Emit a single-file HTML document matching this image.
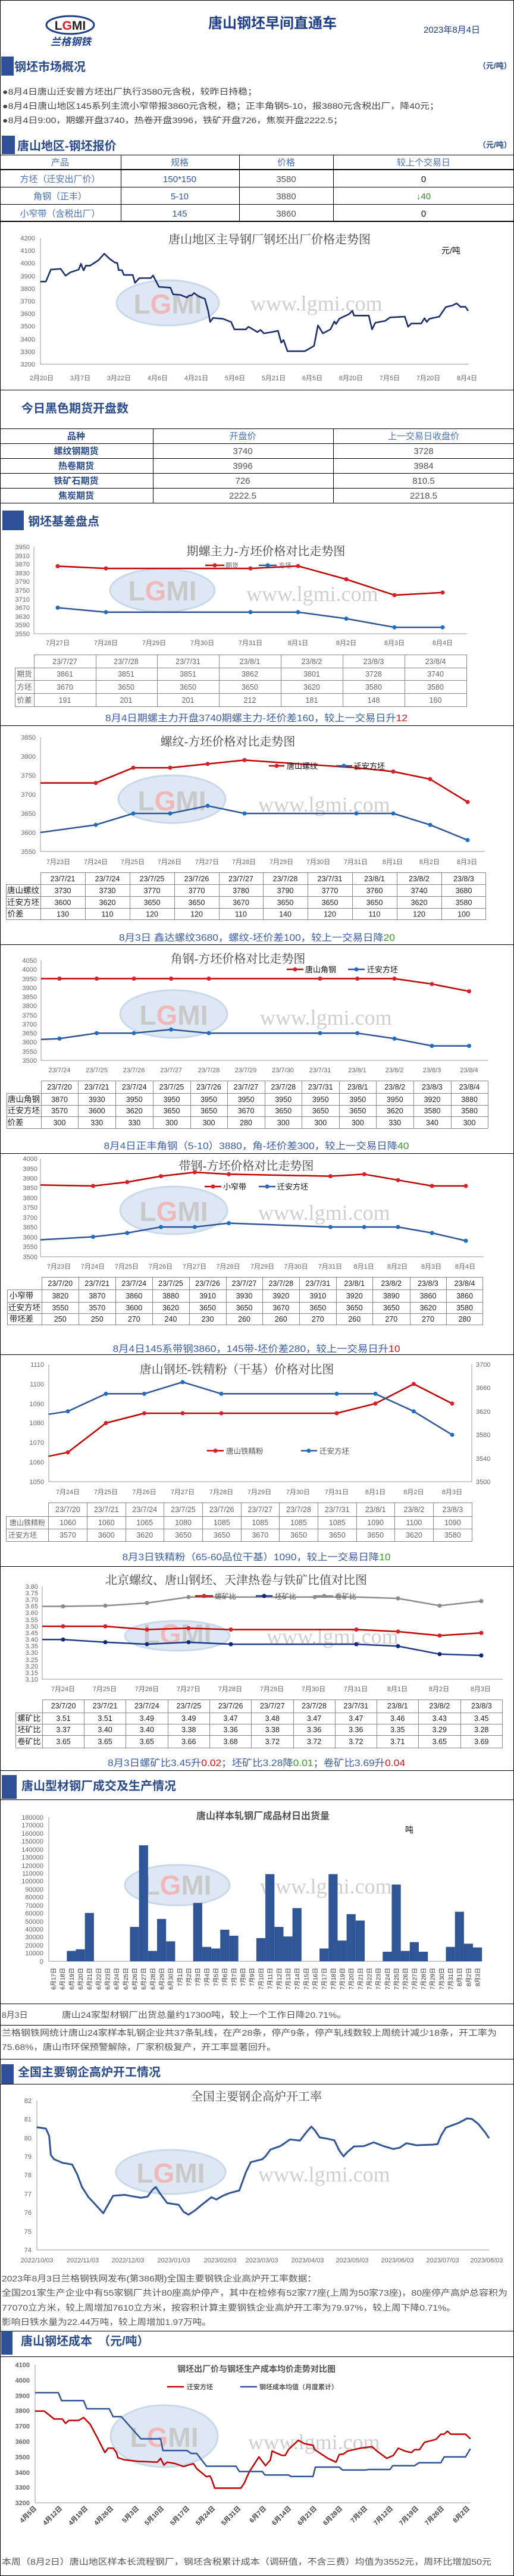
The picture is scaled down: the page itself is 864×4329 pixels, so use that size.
<!DOCTYPE html>
<html><head><meta charset="utf-8">
<style>
html,body{margin:0;padding:0;background:#fff;}
svg{display:block;}
text{font-family:"Liberation Sans","Noto Sans CJK SC",sans-serif;}
.sf{font-family:"Liberation Serif","Noto Serif CJK SC",serif;}
.ct{font-family:"Liberation Serif","Noto Serif CJK SC",serif;font-size:20px;fill:#444;text-anchor:middle;}
.sh{font-size:20px;font-weight:bold;fill:#2b4c8c;}
.yl{font-size:11px;fill:#666;text-anchor:end;}
.xl{font-size:11px;fill:#666;text-anchor:middle;}
.td{font-size:12.5px;fill:#222;text-anchor:middle;}
.tg{font-size:12.5px;fill:#666;text-anchor:middle;}
.cap{font-size:16px;fill:#3a5ea8;text-anchor:middle;}
.g{fill:none;stroke:#888;stroke-width:1;}
.wmE{fill:#dde8f4;stroke:#c9d9ec;stroke-width:3;}
.wmL{font-size:46px;font-weight:bold;fill:#c9c9c9;text-anchor:middle;}
.wmW{font-family:"Liberation Serif",serif;font-size:36px;fill:#cfcfcf;}
.r{fill:none;stroke:#c00000;stroke-width:2.5;stroke-linejoin:round;}
.b{fill:none;stroke:#2e5597;stroke-width:2.5;stroke-linejoin:round;}
.rd{fill:#d9202a;}
.bd{fill:#1d6fc4;}
.ax{stroke:#999;stroke-width:1;fill:none;}
.nv{vector-effect:non-scaling-stroke;}
</style></head>
<body>
<svg width="864" height="4329" viewBox="0 0 864 4329" xmlns="http://www.w3.org/2000/svg">
<rect x="0" y="0" width="864" height="4329" fill="#fff"/>
<!-- frame -->
<path d="M0.5,0.5 V4328.5 H863.5 V0.5 Z" fill="none" stroke="#000" stroke-width="1"/>

<!-- header -->
<ellipse cx="118" cy="42" rx="40" ry="15" fill="none" stroke="#1f3f8a" stroke-width="3"/>
<text x="118" y="50" font-size="21" font-weight="bold" fill="#222" text-anchor="middle">L<tspan fill="#d9202a">G</tspan>MI</text>
<text x="119" y="76" font-size="17" font-weight="bold" fill="#1f3f8a" text-anchor="middle" font-style="italic">兰格钢铁</text>
<text x="458" y="47" font-size="24" font-weight="bold" fill="#1f3f8a" text-anchor="middle">唐山钢坯早间直通车</text>
<text x="712" y="55" font-size="15" fill="#1f3f8a">2023年8月4日</text>

<rect x="2" y="95" width="21" height="32" fill="#2f4f98"/>
<text x="24" y="119" class="sh">钢坯市场概况</text>
<text x="804" y="141" font-size="13" font-weight="bold" fill="#2b4c8c" transform="translate(0,-26)">（元/吨）</text>
<text x="4" y="159" font-size="14" fill="#444" textLength="428" lengthAdjust="spacingAndGlyphs">●8月4日唐山迁安普方坯出厂执行3580元含税，较昨日持稳；</text>
<text x="4" y="183" font-size="14" fill="#444" textLength="734" lengthAdjust="spacingAndGlyphs">●8月4日唐山地区145系列主流小窄带报3860元含税，稳；正丰角钢5-10，报3880元含税出厂，降40元；</text>
<text x="4" y="207" font-size="14" fill="#444" textLength="572" lengthAdjust="spacingAndGlyphs">●8月4日9:00，期螺开盘3740，热卷开盘3996，铁矿开盘726，焦炭开盘2222.5；</text>

<rect x="3" y="228" width="22" height="31" fill="#2f4f98"/>
<text x="29" y="252" class="sh">唐山地区-钢坯报价</text>
<text x="804" y="248" font-size="13" font-weight="bold" fill="#2b4c8c">（元/吨）</text>
<!-- table 1 -->
<path d="M0,260.5H864 M0,314.5H864 M0,343.5H864 M203.5,260V372 M402.5,260V372 M560.5,260V372" stroke="#000" stroke-width="1" fill="none"/>
<path d="M0,285H864 M0,372H864" stroke="#000" stroke-width="2" fill="none"/>
<g font-size="15" text-anchor="middle" fill="#4a72b8">
<text x="101" y="278">产品</text><text x="302" y="278">规格</text><text x="481" y="278">价格</text><text x="712" y="278">较上个交易日</text>
<text x="101" y="306">方坯（迁安出厂价）</text><text x="302" y="306" fill="#2e5597">150*150</text><text x="481" y="306" fill="#555">3580</text><text x="712" y="306" fill="#111">0</text>
<text x="101" y="335">角钢（正丰）</text><text x="302" y="335" fill="#2e5597">5-10</text><text x="481" y="335" fill="#555">3880</text><text x="712" y="335" fill="#3a8a2a">↓40</text>
<text x="101" y="364">小窄带（含税出厂）</text><text x="302" y="364" fill="#2e5597">145</text><text x="481" y="364" fill="#555">3860</text><text x="712" y="364" fill="#111">0</text>
</g>

<!-- chart A -->
<ellipse cx="282" cy="509" rx="86" ry="38" class="wmE"/>
<text x="282" y="527" class="wmL">L<tspan fill="#f0b8b8">G</tspan>MI</text>
<text x="421" y="522" class="wmW">www.lgmi.com</text>
<text x="453" y="409" class="ct">唐山地区主导钢厂钢坯出厂价格走势图</text>
<text x="742" y="426" font-size="14" fill="#111">元/吨</text>
<path d="M68,400V612H788" class="ax"/>
<g class="yl sf" font-size="12">
<text x="59" y="404">4200</text><text x="59" y="425">4100</text><text x="59" y="446">4000</text><text x="59" y="468">3900</text><text x="59" y="489">3800</text><text x="59" y="510">3700</text><text x="59" y="531">3600</text><text x="59" y="552">3500</text><text x="59" y="574">3400</text><text x="59" y="595">3300</text><text x="59" y="616">3200</text>
</g>
<g class="xl sf" font-size="12">
<text x="70" y="639">2月20日</text><text x="135" y="639">3月7日</text><text x="200" y="639">3月22日</text><text x="265" y="639">4月6日</text><text x="330" y="639">4月21日</text><text x="395" y="639">5月6日</text><text x="460" y="639">5月21日</text><text x="525" y="639">6月5日</text><text x="590" y="639">6月20日</text><text x="655" y="639">7月5日</text><text x="720" y="639">7月20日</text><text x="785" y="639">8月4日</text>
</g>
<g transform="scale(0.551,0.4464)">
<polyline class="nv" fill="none" stroke="#1c2f6e" stroke-width="2.6" stroke-linejoin="round" points="123,1060 140,1060 155,1015 185,1012 200,1038 215,1025 240,1015 247,993 255,1018 262,1000 275,1000 300,980 318,955 335,975 350,988 358,990 362,1017 372,1017 378,1035 405,1035 412,1065 425,1047 460,1047 467,1037 485,1080 520,1083 528,1108 550,1110 570,1120 578,1112 585,1112 592,1103 605,1115 625,1125 635,1170 641,1212 650,1197 680,1200 705,1212 715,1240 750,1240 758,1230 785,1250 795,1242 805,1255 830,1250 848,1245 858,1290 865,1280 868,1290 877,1322 930,1322 958,1302 970,1225 985,1255 1008,1240 1020,1210 1025,1220 1035,1200 1065,1182 1075,1170 1080,1188 1125,1188 1135,1240 1145,1215 1175,1208 1190,1195 1235,1192 1245,1230 1255,1218 1285,1218 1295,1198 1302,1212 1310,1200 1340,1192 1360,1156 1380,1150 1393,1142 1405,1155 1420,1155 1428,1170"/>
</g>
<path d="M0,655.5H864" stroke="#000"/>

<!-- futures table -->
<text x="36" y="693" class="sh">今日黑色期货开盘数</text>
<path d="M0,720.5H864 M0,745.5H864 M0,770.5H864 M0,795.5H864 M0,820.5H864 M0,845.5H864 M257.5,720V845 M560.5,720V845" stroke="#000" fill="none"/>
<g font-size="15" text-anchor="middle">
<text x="128" y="738" font-weight="bold" fill="#2b4c8c">品种</text><text x="408" y="738" fill="#4a72b8">开盘价</text><text x="712" y="738" fill="#4a72b8">上一交易日收盘价</text>
<text x="128" y="763" font-weight="bold" fill="#2b4c8c">螺纹钢期货</text><text x="408" y="763" fill="#555">3740</text><text x="712" y="763" fill="#555">3728</text>
<text x="128" y="788" font-weight="bold" fill="#2b4c8c">热卷期货</text><text x="408" y="788" fill="#555">3996</text><text x="712" y="788" fill="#555">3984</text>
<text x="128" y="813" font-weight="bold" fill="#2b4c8c">铁矿石期货</text><text x="408" y="813" fill="#555">726</text><text x="712" y="813" fill="#555">810.5</text>
<text x="128" y="838" font-weight="bold" fill="#2b4c8c">焦炭期货</text><text x="408" y="838" fill="#555">2222.5</text><text x="712" y="838" fill="#555">2218.5</text>
</g>

<rect x="4" y="858" width="36" height="33" fill="#2f4f98"/>
<text x="47" y="883" class="sh">钢坯基差盘点</text>

<!-- chart B -->
<ellipse cx="273" cy="992" rx="88" ry="36" class="wmE"/>
<text x="273" y="1009" class="wmL">L<tspan fill="#f0b8b8">G</tspan>MI</text>
<text x="414" y="1010" class="wmW">www.lgmi.com</text>
<text x="447" y="933" class="ct">期螺主力-方坯价格对比走势图</text>
<path d="M57,919V1065H785" class="ax"/>
<g class="yl">
<text x="50" y="923">3950</text><text x="50" y="938">3910</text><text x="50" y="952">3870</text><text x="50" y="967">3830</text><text x="50" y="981">3790</text><text x="50" y="996">3750</text><text x="50" y="1011">3710</text><text x="50" y="1025">3670</text><text x="50" y="1040">3630</text><text x="50" y="1054">3590</text><text x="50" y="1069">3550</text>
</g>
<g class="xl"><text x="97" y="1084">7月27日</text><text x="178" y="1084">7月28日</text><text x="259" y="1084">7月29日</text><text x="340" y="1084">7月30日</text><text x="421" y="1084">7月31日</text><text x="501" y="1084">8月1日</text><text x="582" y="1084">8月2日</text><text x="663" y="1084">8月3日</text><text x="744" y="1084">8月4日</text></g>
<polyline class="r" points="97,951.5 178,955.2 421,955.2 501,951.2 582,973.5 663,1000.1 744,995.8"/>
<polyline class="b" points="97,1021.3 178,1028.7 421,1028.7 501,1028.7 582,1039.6 663,1054.2 744,1054.2"/>
<g class="rd"><circle cx="97" cy="951.5" r="3.5"/><circle cx="178" cy="955.2" r="3.5"/><circle cx="421" cy="955.2" r="3.5"/><circle cx="501" cy="951.2" r="3.5"/><circle cx="582" cy="973.5" r="3.5"/><circle cx="663" cy="1000.1" r="3.5"/><circle cx="744" cy="995.8" r="3.5"/></g>
<g class="bd"><circle cx="97" cy="1021.3" r="3.5"/><circle cx="178" cy="1028.7" r="3.5"/><circle cx="421" cy="1028.7" r="3.5"/><circle cx="501" cy="1028.7" r="3.5"/><circle cx="582" cy="1039.6" r="3.5"/><circle cx="663" cy="1054.2" r="3.5"/><circle cx="744" cy="1054.2" r="3.5"/></g>
<path d="M345,950H377" stroke="#c00000" stroke-width="2.5"/><circle cx="361" cy="950" r="3.5" class="rd"/><text x="379" y="954" font-size="11" fill="#666">期货</text>
<path d="M435,950H465" stroke="#2e5597" stroke-width="2.5"/><circle cx="450" cy="950" r="3.5" class="bd"/><text x="468" y="954" font-size="11" fill="#666">方坯</text>
<path class="g" d="M57,1100.5H785 M25,1122.5H785 M25,1143.5H785 M25,1165.5H785 M25,1187.5H785 M25.5,1122V1187 M57.5,1100V1187 M161.5,1100V1187 M264.5,1100V1187 M368.5,1100V1187 M472.5,1100V1187 M576.5,1100V1187 M680.5,1100V1187 M784.5,1100V1187"/>
<g class="tg">
<text x="109" y="1116">23/7/27</text><text x="212" y="1116">23/7/28</text><text x="316" y="1116">23/7/31</text><text x="420" y="1116">23/8/1</text><text x="524" y="1116">23/8/2</text><text x="628" y="1116">23/8/3</text><text x="732" y="1116">23/8/4</text>
<text x="41" y="1137">期货</text><text x="109" y="1137">3861</text><text x="212" y="1137">3851</text><text x="316" y="1137">3851</text><text x="420" y="1137">3862</text><text x="524" y="1137">3801</text><text x="628" y="1137">3728</text><text x="732" y="1137">3740</text>
<text x="41" y="1159">方坯</text><text x="109" y="1159">3670</text><text x="212" y="1159">3650</text><text x="316" y="1159">3650</text><text x="420" y="1159">3650</text><text x="524" y="1159">3620</text><text x="628" y="1159">3580</text><text x="732" y="1159">3580</text>
<text x="41" y="1181">价差</text><text x="109" y="1181">191</text><text x="212" y="1181">201</text><text x="316" y="1181">201</text><text x="420" y="1181">212</text><text x="524" y="1181">181</text><text x="628" y="1181">148</text><text x="732" y="1181">160</text>
</g>
<text x="431" y="1212" class="cap" textLength="508" lengthAdjust="spacingAndGlyphs">8月4日期螺主力开盘3740期螺主力-坯价差160，较上一交易日升<tspan fill="#e01010">12</tspan></text>
<path d="M0,1219.5H864" stroke="#000"/>

<!-- chart C -->
<ellipse cx="289" cy="1343" rx="90" ry="40" class="wmE"/>
<text x="289" y="1362" class="wmL">L<tspan fill="#f0b8b8">G</tspan>MI</text>
<text x="434" y="1364" class="wmW">www.lgmi.com</text>
<text x="383" y="1253" class="ct">螺纹-方坯价格对比走势图</text>
<path d="M68,1239V1431H815" class="ax"/>
<g class="yl"><text x="60" y="1243">3850</text><text x="60" y="1275">3800</text><text x="60" y="1307">3750</text><text x="60" y="1339">3700</text><text x="60" y="1371">3650</text><text x="60" y="1403">3600</text><text x="60" y="1435">3550</text></g>
<g class="xl" font-size="12" fill="#555"><text x="98" y="1452">7月23日</text><text x="161" y="1452">7月24日</text><text x="223" y="1452">7月25日</text><text x="285" y="1452">7月26日</text><text x="348" y="1452">7月27日</text><text x="410" y="1452">7月28日</text><text x="473" y="1452">7月29日</text><text x="535" y="1452">7月30日</text><text x="598" y="1452">7月31日</text><text x="660" y="1452">8月1日</text><text x="722" y="1452">8月2日</text><text x="785" y="1452">8月3日</text></g>
<polyline class="r" points="68,1315.8 161,1315.8 224,1290.2 286,1290.2 349,1283.8 411,1277.4 599,1290.2 661,1296.6 723,1309.4 786,1347.8"/>
<polyline class="b" points="68,1399 161,1386.2 224,1367 286,1367 349,1354.2 411,1367 599,1367 661,1367 723,1386.2 786,1411.8"/>
<g class="rd"><circle cx="161" cy="1315.8" r="3.5"/><circle cx="224" cy="1290.2" r="3.5"/><circle cx="286" cy="1290.2" r="3.5"/><circle cx="349" cy="1283.8" r="3.5"/><circle cx="411" cy="1277.4" r="3.5"/><circle cx="599" cy="1290.2" r="3.5"/><circle cx="661" cy="1296.6" r="3.5"/><circle cx="723" cy="1309.4" r="3.5"/><circle cx="786" cy="1347.8" r="3.5"/></g>
<g class="bd"><circle cx="161" cy="1386.2" r="3.5"/><circle cx="224" cy="1367" r="3.5"/><circle cx="286" cy="1367" r="3.5"/><circle cx="349" cy="1354.2" r="3.5"/><circle cx="411" cy="1367" r="3.5"/><circle cx="599" cy="1367" r="3.5"/><circle cx="661" cy="1367" r="3.5"/><circle cx="723" cy="1386.2" r="3.5"/><circle cx="786" cy="1411.8" r="3.5"/></g>
<path d="M452,1287H478" stroke="#c00000" stroke-width="2.5"/><circle cx="465" cy="1287" r="3.5" class="rd"/><text x="482" y="1292" font-size="13" fill="#111">唐山螺纹</text>
<path d="M565,1287H592" stroke="#2e5597" stroke-width="2.5"/><circle cx="578" cy="1287" r="3.5" class="bd"/><text x="595" y="1292" font-size="13" fill="#111">迁安方坯</text>
<path class="g" d="M68,1466.5H817 M10.5,1486.5H817 M10.5,1506.5H817 M10.5,1526.5H817 M10.5,1545.5H817 M10.5,1486V1545 M68.5,1466V1545 M143.5,1466V1545 M218.5,1466V1545 M293.5,1466V1545 M368.5,1466V1545 M442.5,1466V1545 M517.5,1466V1545 M592.5,1466V1545 M667.5,1466V1545 M742.5,1466V1545 M816.5,1466V1545"/>
<g class="td">
<text x="105.5" y="1481">23/7/21</text><text x="180.5" y="1481">23/7/24</text><text x="255.5" y="1481">23/7/25</text><text x="330.5" y="1481">23/7/26</text><text x="405" y="1481">23/7/27</text><text x="479.5" y="1481">23/7/28</text><text x="554.5" y="1481">23/7/31</text><text x="629.5" y="1481">23/8/1</text><text x="704.5" y="1481">23/8/2</text><text x="779.5" y="1481">23/8/3</text>
<text x="39" y="1501" font-size="13.5">唐山螺纹</text><text x="105.5" y="1501">3730</text><text x="180.5" y="1501">3730</text><text x="255.5" y="1501">3770</text><text x="330.5" y="1501">3770</text><text x="405" y="1501">3780</text><text x="479.5" y="1501">3790</text><text x="554.5" y="1501">3770</text><text x="629.5" y="1501">3760</text><text x="704.5" y="1501">3740</text><text x="779.5" y="1501">3680</text>
<text x="39" y="1521" font-size="13.5">迁安方坯</text><text x="105.5" y="1521">3600</text><text x="180.5" y="1521">3620</text><text x="255.5" y="1521">3650</text><text x="330.5" y="1521">3650</text><text x="405" y="1521">3670</text><text x="479.5" y="1521">3650</text><text x="554.5" y="1521">3650</text><text x="629.5" y="1521">3650</text><text x="704.5" y="1521">3620</text><text x="779.5" y="1521">3580</text>
<text x="26" y="1540.5" font-size="13.5">价差</text><text x="105.5" y="1540.5">130</text><text x="180.5" y="1540.5">110</text><text x="255.5" y="1540.5">120</text><text x="330.5" y="1540.5">120</text><text x="405" y="1540.5">110</text><text x="479.5" y="1540.5">140</text><text x="554.5" y="1540.5">120</text><text x="629.5" y="1540.5">110</text><text x="704.5" y="1540.5">120</text><text x="779.5" y="1540.5">100</text>
</g>
<text x="432" y="1581" class="cap" textLength="464" lengthAdjust="spacingAndGlyphs">8月3日 鑫达螺纹3680，螺纹-坯价差100，较上一交易日降<tspan fill="#3a9a2a">20</tspan></text>
<path d="M0,1587.5H864" stroke="#000"/>

<!-- chart D -->
<ellipse cx="292" cy="1704" rx="90" ry="40" class="wmE"/>
<text x="292" y="1722" class="wmL">L<tspan fill="#f0b8b8">G</tspan>MI</text>
<text x="437" y="1722" class="wmW">www.lgmi.com</text>
<text x="400" y="1618" class="ct">角钢-方坯价格对比走势图</text>
<path d="M69,1614V1782H820" class="ax"/>
<g class="yl"><text x="62" y="1618">4050</text><text x="62" y="1633">4000</text><text x="62" y="1649">3950</text><text x="62" y="1664">3900</text><text x="62" y="1679">3850</text><text x="62" y="1694">3800</text><text x="62" y="1710">3750</text><text x="62" y="1725">3700</text><text x="62" y="1740">3650</text><text x="62" y="1755">3600</text><text x="62" y="1771">3550</text><text x="62" y="1786">3500</text></g>
<g class="xl"><text x="100" y="1802">23/7/24</text><text x="162.5" y="1802">23/7/25</text><text x="225" y="1802">23/7/26</text><text x="287.6" y="1802">23/7/27</text><text x="351" y="1802">23/7/28</text><text x="413" y="1802">23/7/29</text><text x="475.5" y="1802">23/7/30</text><text x="538" y="1802">23/7/31</text><text x="600.6" y="1802">23/8/1</text><text x="663" y="1802">23/8/2</text><text x="726" y="1802">23/8/3</text><text x="788.5" y="1802">23/8/4</text></g>
<polyline class="r" points="69,1644.6 100,1644.6 162.5,1644.6 225,1644.6 287.6,1644.6 351,1644.6 538,1644.6 600.6,1644.6 663,1644.6 726,1653.7 788.5,1665.9"/>
<polyline class="b" points="69,1746.9 100,1745.4 162.5,1736.2 225,1736.2 287.6,1730.1 351,1736.2 538,1736.2 600.6,1736.2 663,1745.4 726,1757.6 788.5,1757.6"/>
<g class="rd"><circle cx="100" cy="1644.6" r="3.5"/><circle cx="162.5" cy="1644.6" r="3.5"/><circle cx="225" cy="1644.6" r="3.5"/><circle cx="287.6" cy="1644.6" r="3.5"/><circle cx="351" cy="1644.6" r="3.5"/><circle cx="538" cy="1644.6" r="3.5"/><circle cx="600.6" cy="1644.6" r="3.5"/><circle cx="663" cy="1644.6" r="3.5"/><circle cx="726" cy="1653.7" r="3.5"/><circle cx="788.5" cy="1665.9" r="3.5"/></g>
<g class="bd"><circle cx="100" cy="1745.4" r="3.5"/><circle cx="162.5" cy="1736.2" r="3.5"/><circle cx="225" cy="1736.2" r="3.5"/><circle cx="287.6" cy="1730.1" r="3.5"/><circle cx="351" cy="1736.2" r="3.5"/><circle cx="538" cy="1736.2" r="3.5"/><circle cx="600.6" cy="1736.2" r="3.5"/><circle cx="663" cy="1745.4" r="3.5"/><circle cx="726" cy="1757.6" r="3.5"/><circle cx="788.5" cy="1757.6" r="3.5"/></g>
<path d="M482,1629H510" stroke="#c00000" stroke-width="2.5"/><circle cx="496" cy="1629" r="3.5" class="rd"/><text x="513" y="1634" font-size="13" fill="#111">唐山角钢</text>
<path d="M585,1629H613" stroke="#2e5597" stroke-width="2.5"/><circle cx="599" cy="1629" r="3.5" class="bd"/><text x="617" y="1634" font-size="13" fill="#111">迁安方坯</text>
<path class="g" d="M69,1816.5H820 M11,1837.5H820 M11,1857.5H820 M11,1876.5H820 M11,1896.5H820 M11.5,1837V1896 M69.5,1816V1896 M131.5,1816V1896 M194.5,1816V1896 M257.5,1816V1896 M320.5,1816V1896 M382.5,1816V1896 M445.5,1816V1896 M507.5,1816V1896 M570.5,1816V1896 M632.5,1816V1896 M695.5,1816V1896 M758.5,1816V1896 M820.5,1816V1896"/>
<g class="td">
<text x="100" y="1831">23/7/20</text><text x="162.75" y="1831">23/7/21</text><text x="225.75" y="1831">23/7/24</text><text x="288.5" y="1831">23/7/25</text><text x="351" y="1831">23/7/26</text><text x="413.5" y="1831">23/7/27</text><text x="476.25" y="1831">23/7/28</text><text x="538.75" y="1831">23/7/31</text><text x="601.25" y="1831">23/8/1</text><text x="663.75" y="1831">23/8/2</text><text x="726.5" y="1831">23/8/3</text><text x="789" y="1831">23/8/4</text>
<text x="40" y="1852" font-size="13.5">唐山角钢</text><text x="100" y="1852">3870</text><text x="162.75" y="1852">3930</text><text x="225.75" y="1852">3950</text><text x="288.5" y="1852">3950</text><text x="351" y="1852">3950</text><text x="413.5" y="1852">3950</text><text x="476.25" y="1852">3950</text><text x="538.75" y="1852">3950</text><text x="601.25" y="1852">3950</text><text x="663.75" y="1852">3950</text><text x="726.5" y="1852">3920</text><text x="789" y="1852">3880</text>
<text x="40" y="1871" font-size="13.5">迁安方坯</text><text x="100" y="1871">3570</text><text x="162.75" y="1871">3600</text><text x="225.75" y="1871">3620</text><text x="288.5" y="1871">3650</text><text x="351" y="1871">3650</text><text x="413.5" y="1871">3670</text><text x="476.25" y="1871">3650</text><text x="538.75" y="1871">3650</text><text x="601.25" y="1871">3650</text><text x="663.75" y="1871">3620</text><text x="726.5" y="1871">3580</text><text x="789" y="1871">3580</text>
<text x="26" y="1891" font-size="13.5">价差</text><text x="100" y="1891">300</text><text x="162.75" y="1891">330</text><text x="225.75" y="1891">330</text><text x="288.5" y="1891">300</text><text x="351" y="1891">300</text><text x="413.5" y="1891">280</text><text x="476.25" y="1891">300</text><text x="538.75" y="1891">300</text><text x="601.25" y="1891">300</text><text x="663.75" y="1891">330</text><text x="726.5" y="1891">340</text><text x="789" y="1891">300</text>
</g>
<text x="431" y="1931" class="cap" textLength="513" lengthAdjust="spacingAndGlyphs">8月4日正丰角钢（5-10）3880，角-坯价差300，较上一交易日降<tspan fill="#3a9a2a">40</tspan></text>
<path d="M0,1938.5H864" stroke="#000"/>

<!-- chart E -->
<ellipse cx="292" cy="2034" rx="90" ry="40" class="wmE"/>
<text x="292" y="2052" class="wmL">L<tspan fill="#f0b8b8">G</tspan>MI</text>
<text x="434" y="2050" class="wmW">www.lgmi.com</text>
<text x="414" y="1966" class="ct">带钢-方坯价格对比走势图</text>
<path d="M68,1947V2112H813" class="ax"/>
<g class="yl"><text x="63" y="1951">4000</text><text x="63" y="1968">3950</text><text x="63" y="1984">3900</text><text x="63" y="2000">3850</text><text x="63" y="2017">3800</text><text x="63" y="2033">3750</text><text x="63" y="2050">3700</text><text x="63" y="2066">3650</text><text x="63" y="2083">3600</text><text x="63" y="2099">3550</text><text x="63" y="2116">3500</text></g>
<g class="xl"><text x="99" y="2132">7月23日</text><text x="156" y="2132">7月24日</text><text x="213" y="2132">7月25日</text><text x="270" y="2132">7月26日</text><text x="327" y="2132">7月27日</text><text x="383.5" y="2132">7月28日</text><text x="441" y="2132">7月29日</text><text x="497.5" y="2132">7月30日</text><text x="555" y="2132">7月31日</text><text x="611.6" y="2132">8月1日</text><text x="668" y="2132">8月2日</text><text x="725" y="2132">8月3日</text><text x="782" y="2132">8月4日</text></g>
<polyline class="r" points="68,1991.4 156.5,1993 213.8,1986.5 270.5,1976.6 327.3,1970 384.6,1973.3 555.4,1976.6 612.2,1973.3 669,1983.2 726.2,1993 783,1993"/>
<polyline class="b" points="68,2083.5 156.5,2078.5 213.8,2072 270.5,2062 327.3,2062 384.6,2055.5 555.4,2062 612.2,2062 669,2062 726.2,2072 783,2085.1"/>
<g class="rd"><circle cx="156.5" cy="1993" r="3.5"/><circle cx="213.8" cy="1986.5" r="3.5"/><circle cx="270.5" cy="1976.6" r="3.5"/><circle cx="327.3" cy="1970" r="3.5"/><circle cx="384.6" cy="1973.3" r="3.5"/><circle cx="555.4" cy="1976.6" r="3.5"/><circle cx="612.2" cy="1973.3" r="3.5"/><circle cx="669" cy="1983.2" r="3.5"/><circle cx="726.2" cy="1993" r="3.5"/><circle cx="783" cy="1993" r="3.5"/></g>
<g class="bd"><circle cx="156.5" cy="2078.5" r="3.5"/><circle cx="213.8" cy="2072" r="3.5"/><circle cx="270.5" cy="2062" r="3.5"/><circle cx="327.3" cy="2062" r="3.5"/><circle cx="384.6" cy="2055.5" r="3.5"/><circle cx="555.4" cy="2062" r="3.5"/><circle cx="612.2" cy="2062" r="3.5"/><circle cx="669" cy="2062" r="3.5"/><circle cx="726.2" cy="2072" r="3.5"/><circle cx="783" cy="2085.1" r="3.5"/></g>
<path d="M344,1994H372" stroke="#c00000" stroke-width="2.5"/><circle cx="358" cy="1994" r="3.5" class="rd"/><text x="375" y="1999" font-size="13" fill="#111">小窄带</text>
<path d="M435,1994H463" stroke="#2e5597" stroke-width="2.5"/><circle cx="449" cy="1994" r="3.5" class="bd"/><text x="466" y="1999" font-size="13" fill="#111">迁安方坯</text>
<path class="g" d="M70.5,2146.5H812 M12,2167.5H812 M12,2188.5H812 M12,2207.5H812 M12,2226.5H812 M12.5,2167V2226 M70.5,2146V2226 M132.5,2146V2226 M194.5,2146V2226 M256.5,2146V2226 M318.5,2146V2226 M380.5,2146V2226 M441.5,2146V2226 M503.5,2146V2226 M565.5,2146V2226 M626.5,2146V2226 M689.5,2146V2226 M750.5,2146V2226 M811.5,2146V2226"/>
<g class="td">
<text x="101.25" y="2161">23/7/20</text><text x="163.25" y="2161">23/7/21</text><text x="225.25" y="2161">23/7/24</text><text x="287" y="2161">23/7/25</text><text x="349" y="2161">23/7/26</text><text x="410.5" y="2161">23/7/27</text><text x="472.3" y="2161">23/7/28</text><text x="534.3" y="2161">23/7/31</text><text x="595.75" y="2161">23/8/1</text><text x="657.75" y="2161">23/8/2</text><text x="719.5" y="2161">23/8/3</text><text x="781" y="2161">23/8/4</text>
<text x="36" y="2182" font-size="13.5">小窄带</text><text x="101.25" y="2182">3820</text><text x="163.25" y="2182">3870</text><text x="225.25" y="2182">3860</text><text x="287" y="2182">3880</text><text x="349" y="2182">3910</text><text x="410.5" y="2182">3930</text><text x="472.3" y="2182">3920</text><text x="534.3" y="2182">3910</text><text x="595.75" y="2182">3920</text><text x="657.75" y="2182">3890</text><text x="719.5" y="2182">3860</text><text x="781" y="2182">3860</text>
<text x="41" y="2202" font-size="13.5">迁安方坯</text><text x="101.25" y="2202">3550</text><text x="163.25" y="2202">3570</text><text x="225.25" y="2202">3600</text><text x="287" y="2202">3620</text><text x="349" y="2202">3650</text><text x="410.5" y="2202">3650</text><text x="472.3" y="2202">3670</text><text x="534.3" y="2202">3650</text><text x="595.75" y="2202">3650</text><text x="657.75" y="2202">3650</text><text x="719.5" y="2202">3620</text><text x="781" y="2202">3580</text>
<text x="36" y="2221" font-size="13.5">带坯差</text><text x="101.25" y="2221">250</text><text x="163.25" y="2221">250</text><text x="225.25" y="2221">270</text><text x="287" y="2221">240</text><text x="349" y="2221">230</text><text x="410.5" y="2221">260</text><text x="472.3" y="2221">260</text><text x="534.3" y="2221">270</text><text x="595.75" y="2221">260</text><text x="657.75" y="2221">270</text><text x="719.5" y="2221">270</text><text x="781" y="2221">280</text>
</g>
<text x="431" y="2272" class="cap" textLength="483" lengthAdjust="spacingAndGlyphs">8月4日145系带钢3860，145带-坯价差280，较上一交易日升<tspan fill="#e01010">10</tspan></text>
<path d="M0,2276.5H864" stroke="#000"/>

<!-- chart F -->
<text x="398" y="2308" class="ct">唐山钢坯-铁精粉（干基）价格对比图</text>
<path d="M82,2293V2490H793V2293" class="ax"/>
<g class="yl"><text x="74" y="2297">1110</text><text x="74" y="2330">1100</text><text x="74" y="2363">1090</text><text x="74" y="2395">1080</text><text x="74" y="2428">1070</text><text x="74" y="2461">1060</text><text x="74" y="2494">1050</text></g>
<g class="yl" text-anchor="start"><text x="800" y="2297" text-anchor="start">3700</text><text x="800" y="2336" text-anchor="start">3660</text><text x="800" y="2376" text-anchor="start">3620</text><text x="800" y="2415" text-anchor="start">3580</text><text x="800" y="2455" text-anchor="start">3540</text><text x="800" y="2494" text-anchor="start">3500</text></g>
<g class="xl"><text x="114" y="2511">7月24日</text><text x="178" y="2511">7月25日</text><text x="242.4" y="2511">7月26日</text><text x="307" y="2511">7月27日</text><text x="372" y="2511">7月28日</text><text x="436" y="2511">7月29日</text><text x="501" y="2511">7月30日</text><text x="566" y="2511">7月31日</text><text x="631" y="2511">8月1日</text><text x="695.4" y="2511">8月2日</text><text x="760" y="2511">8月3日</text></g>
<polyline class="r" points="81.5,2447.3 114,2440.7 178,2391.5 242.4,2375 307,2375 372,2375 566,2375 631,2358.7 695.4,2325.8 760,2358.7"/>
<polyline class="b" points="81.5,2376.7 114,2371.8 178,2342.3 242.4,2342.3 307,2322.6 372,2342.3 566,2342.3 631,2342.3 695.4,2371.8 760,2411.2"/>
<g class="rd"><circle cx="114" cy="2440.7" r="3.5"/><circle cx="178" cy="2391.5" r="3.5"/><circle cx="242.4" cy="2375" r="3.5"/><circle cx="307" cy="2375" r="3.5"/><circle cx="372" cy="2375" r="3.5"/><circle cx="566" cy="2375" r="3.5"/><circle cx="631" cy="2358.7" r="3.5"/><circle cx="695.4" cy="2325.8" r="3.5"/><circle cx="760" cy="2358.7" r="3.5"/></g>
<g class="bd"><circle cx="114" cy="2371.8" r="3.5"/><circle cx="178" cy="2342.3" r="3.5"/><circle cx="242.4" cy="2342.3" r="3.5"/><circle cx="307" cy="2322.6" r="3.5"/><circle cx="372" cy="2342.3" r="3.5"/><circle cx="566" cy="2342.3" r="3.5"/><circle cx="631" cy="2342.3" r="3.5"/><circle cx="695.4" cy="2371.8" r="3.5"/><circle cx="760" cy="2411.2" r="3.5"/></g>
<path d="M348,2438H376" stroke="#c00000" stroke-width="2.5"/><circle cx="362" cy="2438" r="3.5" class="rd"/><text x="380" y="2443" font-size="12.5" fill="#555">唐山铁精粉</text>
<path d="M506,2438H533" stroke="#2e5597" stroke-width="2.5"/><circle cx="519" cy="2438" r="3.5" class="bd"/><text x="537" y="2443" font-size="12.5" fill="#555">迁安方坯</text>
<path class="g" d="M81.5,2525.5H793.4 M10.5,2548.5H793.4 M10.5,2569.5H793.4 M10.5,2590.5H793.4 M10.5,2548V2590 M81.5,2525V2590 M146.5,2525V2590 M211.5,2525V2590 M275.5,2525V2590 M340.5,2525V2590 M405.5,2525V2590 M469.5,2525V2590 M534.5,2525V2590 M599.5,2525V2590 M663.5,2525V2590 M728.5,2525V2590 M793.5,2525V2590"/>
<g class="tg" font-size="13">
<text x="114" y="2541">23/7/20</text><text x="178.8" y="2541">23/7/21</text><text x="243.25" y="2541">23/7/24</text><text x="308" y="2541">23/7/25</text><text x="372.75" y="2541">23/7/26</text><text x="437.25" y="2541">23/7/27</text><text x="502" y="2541">23/7/28</text><text x="566.75" y="2541">23/7/31</text><text x="631.2" y="2541">23/8/1</text><text x="695.9" y="2541">23/8/2</text><text x="760.9" y="2541">23/8/3</text>
<text x="46" y="2563" font-size="12">唐山铁精粉</text><text x="114" y="2563">1060</text><text x="178.8" y="2563">1060</text><text x="243.25" y="2563">1065</text><text x="308" y="2563">1080</text><text x="372.75" y="2563">1085</text><text x="437.25" y="2563">1085</text><text x="502" y="2563">1085</text><text x="566.75" y="2563">1085</text><text x="631.2" y="2563">1090</text><text x="695.9" y="2563">1100</text><text x="760.9" y="2563">1090</text>
<text x="38" y="2584" font-size="12">迁安方坯</text><text x="114" y="2584">3570</text><text x="178.8" y="2584">3600</text><text x="243.25" y="2584">3620</text><text x="308" y="2584">3650</text><text x="372.75" y="2584">3650</text><text x="437.25" y="2584">3670</text><text x="502" y="2584">3650</text><text x="566.75" y="2584">3650</text><text x="631.2" y="2584">3650</text><text x="695.9" y="2584">3620</text><text x="760.9" y="2584">3580</text>
</g>
<text x="431" y="2622" class="cap" textLength="451" lengthAdjust="spacingAndGlyphs">8月3日铁精粉（65-60品位干基）1090，较上一交易日降<tspan fill="#3a9a2a">10</tspan></text>
<path d="M0,2632.5H864" stroke="#000"/>

<!-- chart G -->
<ellipse cx="298" cy="2749" rx="88" ry="25" class="wmE"/>
<text x="298" y="2762" class="wmL" font-size="36">L<tspan fill="#f0b8b8">G</tspan>MI</text>
<text x="448" y="2762" class="wmW" font-size="30">www.lgmi.com</text>
<text x="397" y="2662" class="ct">北京螺纹、唐山钢坯、天津热卷与铁矿比值对比图</text>
<path d="M71,2666V2822H845" class="ax"/>
<g class="yl" font-size="10" fill="#444"><text x="64" y="2670">3.80</text><text x="64" y="2681">3.75</text><text x="64" y="2692">3.70</text><text x="64" y="2703">3.65</text><text x="64" y="2714">3.60</text><text x="64" y="2726">3.55</text><text x="64" y="2737">3.50</text><text x="64" y="2748">3.45</text><text x="64" y="2759">3.40</text><text x="64" y="2770">3.35</text><text x="64" y="2781">3.30</text><text x="64" y="2793">3.25</text><text x="64" y="2804">3.20</text><text x="64" y="2815">3.15</text><text x="64" y="2826">3.10</text></g>
<g class="xl"><text x="106" y="2842">7月24日</text><text x="176" y="2842">7月25日</text><text x="247" y="2842">7月26日</text><text x="317" y="2842">7月27日</text><text x="387" y="2842">7月28日</text><text x="457" y="2842">7月29日</text><text x="527" y="2842">7月30日</text><text x="598" y="2842">7月31日</text><text x="668" y="2842">8月1日</text><text x="738" y="2842">8月2日</text><text x="808" y="2842">8月3日</text></g>
<polyline fill="none" stroke="#8c8c8c" stroke-width="2.5" points="71,2699.5 106,2699.5 177,2698.4 247,2693.9 317,2683.9 388,2683.9 458,2683.9 529,2683.9 599,2683.9 669,2686.1 739,2698.4 809,2690.6"/>
<polyline class="r" points="71,2733 106,2733 177,2733 247,2738.5 317,2736.3 388,2738.5 458,2738.5 529,2738.5 599,2738.5 669,2741.9 739,2748.6 809,2744.1"/>
<polyline fill="none" stroke="#1f3a8a" stroke-width="2.5" points="71,2755.3 106,2755.3 177,2759.7 247,2763.1 317,2759.7 388,2763.1 458,2763.1 529,2763.1 599,2763.1 669,2766.4 739,2779.8 809,2782"/>
<g fill="#8c8c8c"><circle cx="106" cy="2699.5" r="3.5"/><circle cx="177" cy="2698.4" r="3.5"/><circle cx="247" cy="2693.9" r="3.5"/><circle cx="317" cy="2683.9" r="3.5"/><circle cx="529" cy="2683.9" r="3.5"/><circle cx="669" cy="2686.1" r="3.5"/><circle cx="739" cy="2698.4" r="3.5"/><circle cx="809" cy="2690.6" r="3.5"/></g>
<g class="rd"><circle cx="106" cy="2733" r="3.5"/><circle cx="177" cy="2733" r="3.5"/><circle cx="247" cy="2738.5" r="3.5"/><circle cx="317" cy="2736.3" r="3.5"/><circle cx="388" cy="2738.5" r="3.5"/><circle cx="599" cy="2738.5" r="3.5"/><circle cx="669" cy="2741.9" r="3.5"/><circle cx="739" cy="2748.6" r="3.5"/><circle cx="809" cy="2744.1" r="3.5"/></g>
<g fill="#10287a"><circle cx="106" cy="2755.3" r="3.5"/><circle cx="177" cy="2759.7" r="3.5"/><circle cx="247" cy="2763.1" r="3.5"/><circle cx="317" cy="2759.7" r="3.5"/><circle cx="388" cy="2763.1" r="3.5"/><circle cx="599" cy="2763.1" r="3.5"/><circle cx="669" cy="2766.4" r="3.5"/><circle cx="739" cy="2779.8" r="3.5"/><circle cx="809" cy="2782" r="3.5"/></g>
<path d="M328,2682H358" stroke="#c00000" stroke-width="2.5"/><circle cx="343" cy="2682" r="3.5" class="rd"/><text x="361" y="2687" font-size="12" fill="#555">螺矿比</text>
<path d="M430,2682H458" stroke="#1f3a8a" stroke-width="2.5"/><circle cx="444" cy="2682" r="3.5" fill="#10287a"/><text x="462" y="2687" font-size="12" fill="#555">坯矿比</text>
<path d="M530,2682H560" stroke="#8c8c8c" stroke-width="2.5"/><circle cx="545" cy="2682" r="3.5" fill="#8c8c8c"/><text x="563" y="2687" font-size="12" fill="#555">卷矿比</text>
<path class="g" d="M71.6,2856.5H844.7 M26.4,2878.5H844.7 M26.4,2897.5H844.7 M26.4,2916.5H844.7 M26.4,2937.5H844.7 M26.5,2878V2937 M71.5,2856V2937 M141.5,2856V2937 M211.5,2856V2937 M282.5,2856V2937 M352.5,2856V2937 M422.5,2856V2937 M493.5,2856V2937 M563.5,2856V2937 M633.5,2856V2937 M703.5,2856V2937 M774.5,2856V2937 M844.5,2856V2937"/>
<g class="td" font-size="12">
<text x="106.6" y="2871">23/7/20</text><text x="176.6" y="2871">23/7/21</text><text x="246.8" y="2871">23/7/24</text><text x="317.3" y="2871">23/7/25</text><text x="387.6" y="2871">23/7/26</text><text x="457.8" y="2871">23/7/27</text><text x="528" y="2871">23/7/28</text><text x="598.3" y="2871">23/7/31</text><text x="668.3" y="2871">23/8/1</text><text x="738.8" y="2871">23/8/2</text><text x="809.35" y="2871">23/8/3</text>
<text x="49" y="2892" font-size="13">螺矿比</text><text x="106.6" y="2892">3.51</text><text x="176.6" y="2892">3.51</text><text x="246.8" y="2892">3.49</text><text x="317.3" y="2892">3.49</text><text x="387.6" y="2892">3.47</text><text x="457.8" y="2892">3.48</text><text x="528" y="2892">3.47</text><text x="598.3" y="2892">3.47</text><text x="668.3" y="2892">3.46</text><text x="738.8" y="2892">3.43</text><text x="809.35" y="2892">3.45</text>
<text x="49" y="2911" font-size="13">坯矿比</text><text x="106.6" y="2911">3.37</text><text x="176.6" y="2911">3.40</text><text x="246.8" y="2911">3.40</text><text x="317.3" y="2911">3.38</text><text x="387.6" y="2911">3.36</text><text x="457.8" y="2911">3.38</text><text x="528" y="2911">3.36</text><text x="598.3" y="2911">3.36</text><text x="668.3" y="2911">3.35</text><text x="738.8" y="2911">3.29</text><text x="809.35" y="2911">3.28</text>
<text x="49" y="2931" font-size="13">卷矿比</text><text x="106.6" y="2931">3.65</text><text x="176.6" y="2931">3.65</text><text x="246.8" y="2931">3.65</text><text x="317.3" y="2931">3.66</text><text x="387.6" y="2931">3.68</text><text x="457.8" y="2931">3.72</text><text x="528" y="2931">3.72</text><text x="598.3" y="2931">3.72</text><text x="668.3" y="2931">3.71</text><text x="738.8" y="2931">3.65</text><text x="809.35" y="2931">3.69</text>
</g>
<text x="431" y="2968" class="cap" textLength="500" lengthAdjust="spacingAndGlyphs">8月3日螺矿比3.45升<tspan fill="#e01010">0.02</tspan>；坯矿比3.28降<tspan fill="#3a9a2a">0.01</tspan>；卷矿比3.69升<tspan fill="#e01010">0.04</tspan></text>
<path d="M0,2975.5H864 M0,3024.5H864" stroke="#000"/>
<rect x="3" y="2983" width="25" height="40" fill="#2f4f98"/>
<text x="36" y="3008" class="sh">唐山型材钢厂成交及生产情况</text>

<!-- chart H bars -->
<ellipse cx="298" cy="3168" rx="88" ry="34" class="wmE"/>
<text x="298" y="3184" class="wmL" font-size="40">L<tspan fill="#f0b8b8">G</tspan>MI</text>
<text x="437" y="3182" class="wmW">www.lgmi.com</text>
<text x="442" y="3057" font-size="16" font-weight="bold" fill="#555" text-anchor="middle">唐山样本轧钢厂成品材日出货量</text>
<text x="681" y="3080" font-size="14" fill="#111">吨</text>
<path d="M82,3054V3296H810" class="ax"/>
<g class="yl" font-size="11" fill="#222"><text x="73" y="3058">180000</text><text x="73" y="3071">170000</text><text x="73" y="3085">160000</text><text x="73" y="3098">150000</text><text x="73" y="3112">140000</text><text x="73" y="3125">130000</text><text x="73" y="3139">120000</text><text x="73" y="3152">110000</text><text x="73" y="3165">100000</text><text x="73" y="3179">90000</text><text x="73" y="3192">80000</text><text x="73" y="3206">70000</text><text x="73" y="3219">60000</text><text x="73" y="3233">50000</text><text x="73" y="3246">40000</text><text x="73" y="3259">30000</text><text x="73" y="3273">20000</text><text x="73" y="3286">10000</text><text x="73" y="3300">0</text></g>
<g fill="#2f5597">
<rect x="112.3" y="3278.5" width="15.2" height="17.5"/><rect x="127.5" y="3275.8" width="15.2" height="20.2"/><rect x="142.7" y="3214.7" width="15.2" height="81.3"/>
<rect x="218.5" y="3238.2" width="15.2" height="57.8"/><rect x="233.7" y="3101.1" width="15.2" height="194.9"/><rect x="248.9" y="3278.5" width="15.2" height="17.5"/><rect x="264" y="3224.8" width="15.2" height="71.2"/><rect x="279.2" y="3262.4" width="15.2" height="33.6"/>
<rect x="324.7" y="3197.9" width="15.2" height="98.1"/><rect x="339.9" y="3271.8" width="15.2" height="24.2"/><rect x="355.1" y="3274.5" width="15.2" height="21.5"/><rect x="370.2" y="3242.9" width="15.2" height="53.1"/><rect x="385.4" y="3253" width="15.2" height="43"/>
<rect x="430.9" y="3257" width="15.2" height="39"/><rect x="446.1" y="3149.5" width="15.2" height="146.5"/><rect x="461.3" y="3238.2" width="15.2" height="57.8"/><rect x="476.4" y="3254.3" width="15.2" height="41.7"/><rect x="491.6" y="3206.6" width="15.2" height="89.4"/>
<rect x="537.1" y="3274.5" width="15.2" height="21.5"/><rect x="552.3" y="3149.5" width="15.2" height="146.5"/><rect x="567.4" y="3261.1" width="15.2" height="34.9"/><rect x="582.6" y="3216.7" width="15.2" height="79.3"/><rect x="597.8" y="3227.5" width="15.2" height="68.5"/>
<rect x="643.3" y="3279.9" width="15.2" height="16.1"/><rect x="658.5" y="3167" width="15.2" height="129"/><rect x="673.6" y="3278.5" width="15.2" height="17.5"/><rect x="688.8" y="3263.7" width="15.2" height="32.3"/><rect x="704" y="3279.9" width="15.2" height="16.1"/>
<rect x="749.5" y="3271.8" width="15.2" height="24.2"/><rect x="764.7" y="3212.7" width="15.2" height="83.3"/><rect x="779.8" y="3266.4" width="15.2" height="29.6"/><rect x="795" y="3272.7" width="15.2" height="23.3"/>
</g>
<g font-size="10" fill="#333" text-anchor="end">
<text transform="translate(93.5,3307) rotate(-90)">6月17日</text><text transform="translate(108.7,3307) rotate(-90)">6月18日</text><text transform="translate(123.8,3307) rotate(-90)">6月19日</text><text transform="translate(139,3307) rotate(-90)">6月20日</text><text transform="translate(154.2,3307) rotate(-90)">6月21日</text><text transform="translate(169.3,3307) rotate(-90)">6月22日</text><text transform="translate(184.5,3307) rotate(-90)">6月23日</text><text transform="translate(199.7,3307) rotate(-90)">6月24日</text><text transform="translate(214.9,3307) rotate(-90)">6月25日</text><text transform="translate(230,3307) rotate(-90)">6月26日</text><text transform="translate(245.2,3307) rotate(-90)">6月27日</text><text transform="translate(260.4,3307) rotate(-90)">6月28日</text><text transform="translate(275.5,3307) rotate(-90)">6月29日</text><text transform="translate(290.7,3307) rotate(-90)">6月30日</text>
<text transform="translate(305.9,3307) rotate(-90)">7月1日</text><text transform="translate(321,3307) rotate(-90)">7月2日</text><text transform="translate(336.2,3307) rotate(-90)">7月3日</text><text transform="translate(351.4,3307) rotate(-90)">7月4日</text><text transform="translate(366.6,3307) rotate(-90)">7月5日</text><text transform="translate(381.7,3307) rotate(-90)">7月6日</text><text transform="translate(396.9,3307) rotate(-90)">7月7日</text><text transform="translate(412.1,3307) rotate(-90)">7月8日</text><text transform="translate(427.2,3307) rotate(-90)">7月9日</text><text transform="translate(442.4,3307) rotate(-90)">7月10日</text><text transform="translate(457.6,3307) rotate(-90)">7月11日</text><text transform="translate(472.8,3307) rotate(-90)">7月12日</text><text transform="translate(487.9,3307) rotate(-90)">7月13日</text><text transform="translate(503.1,3307) rotate(-90)">7月14日</text><text transform="translate(518.3,3307) rotate(-90)">7月15日</text><text transform="translate(533.4,3307) rotate(-90)">7月16日</text><text transform="translate(548.6,3307) rotate(-90)">7月17日</text><text transform="translate(563.8,3307) rotate(-90)">7月18日</text><text transform="translate(578.9,3307) rotate(-90)">7月19日</text><text transform="translate(594.1,3307) rotate(-90)">7月20日</text><text transform="translate(609.3,3307) rotate(-90)">7月21日</text><text transform="translate(624.5,3307) rotate(-90)">7月22日</text><text transform="translate(639.6,3307) rotate(-90)">7月23日</text><text transform="translate(654.8,3307) rotate(-90)">7月24日</text><text transform="translate(670,3307) rotate(-90)">7月25日</text><text transform="translate(685.1,3307) rotate(-90)">7月26日</text><text transform="translate(700.3,3307) rotate(-90)">7月27日</text><text transform="translate(715.5,3307) rotate(-90)">7月28日</text><text transform="translate(730.7,3307) rotate(-90)">7月29日</text><text transform="translate(745.8,3307) rotate(-90)">7月30日</text><text transform="translate(761,3307) rotate(-90)">7月31日</text><text transform="translate(776.2,3307) rotate(-90)">8月1日</text><text transform="translate(791.3,3307) rotate(-90)">8月2日</text><text transform="translate(806.5,3307) rotate(-90)">8月3日</text>
</g>
<path d="M0,3367.5H864 M0,3403.5H864 M0,3460.5H864 M0,3502.5H864" stroke="#000"/>
<text x="3" y="3391" font-size="14" fill="#555">8月3日</text>
<text x="104" y="3391" font-size="14" fill="#555" textLength="478" lengthAdjust="spacingAndGlyphs">唐山24家型材钢厂出货总量约17300吨，较上一个工作日降20.71%。</text>
<text x="3" y="3421" font-size="14" fill="#555" textLength="832" lengthAdjust="spacingAndGlyphs">兰格钢铁网统计唐山24家样本轧钢企业共37条轧线，在产28条，停产9条，停产轧线数较上周统计减少18条，开工率为</text>
<text x="3" y="3445" font-size="14" fill="#555" textLength="461" lengthAdjust="spacingAndGlyphs">75.68%，唐山市环保预警解除，厂家积极复产，开工率显著回升。</text>
<rect x="2" y="3469" width="21" height="33" fill="#2f4f98"/>
<text x="30" y="3489" class="sh">全国主要钢企高炉开工情况</text>

<!-- chart I -->
<ellipse cx="287" cy="3650" rx="92" ry="37" class="wmE"/>
<text x="287" y="3668" class="wmL" font-size="42">L<tspan fill="#f0b8b8">G</tspan>MI</text>
<text x="434" y="3666" class="wmW">www.lgmi.com</text>
<text x="431" y="3530" class="ct" font-size="19">全国主要钢企高炉开工率</text>
<path d="M62,3530V3781H822" class="ax"/>
<g class="yl" font-size="10" fill="#555"><text x="53" y="3534">82</text><text x="53" y="3565">81</text><text x="53" y="3597">80</text><text x="53" y="3628">79</text><text x="53" y="3659">78</text><text x="53" y="3691">77</text><text x="53" y="3722">76</text><text x="53" y="3754">75</text><text x="53" y="3785">74</text></g>
<g class="xl" font-size="10" fill="#444"><text x="62" y="3802">2022/10/03</text><text x="139" y="3802">2022/11/03</text><text x="215" y="3802">2022/12/03</text><text x="292" y="3802">2023/01/03</text><text x="370" y="3802">2023/02/03</text><text x="440" y="3802">2023/03/03</text><text x="517" y="3802">2023/04/03</text><text x="592" y="3802">2023/05/03</text><text x="668" y="3802">2023/06/03</text><text x="744" y="3802">2023/07/03</text><text x="818" y="3802">2023/08/03</text></g>
<g transform="translate(0,3560) scale(0.551,0.4904)">
<polyline class="nv" fill="none" stroke="#2f5597" stroke-width="3" stroke-linejoin="round" points="112,30 140,35 150,60 155,125 165,140 190,152 220,158 235,190 250,235 270,270 295,300 315,325 330,295 345,265 380,262 410,268 430,272 450,268 465,245 475,235 490,260 510,290 545,296 560,320 575,330 595,315 620,292 645,270 660,278 680,265 700,256 730,247 750,185 765,150 800,140 810,130 825,107 855,95 885,72 915,76 935,47 950,28 960,40 975,65 1000,70 1020,75 1035,110 1048,130 1060,115 1080,96 1110,95 1140,82 1170,95 1200,105 1220,100 1240,85 1270,92 1320,90 1335,88 1345,60 1360,32 1400,15 1425,0 1440,2 1460,20 1480,48 1492,68"/>
</g>
<text x="3" y="3834" font-size="14" fill="#555" textLength="529" lengthAdjust="spacingAndGlyphs">2023年8月3日兰格钢铁网发布(第386期)全国主要钢铁企业高炉开工率数据：</text>
<text x="3" y="3858" font-size="14" fill="#555" textLength="850" lengthAdjust="spacingAndGlyphs">全国201家生产企业中有55家钢厂共计80座高炉停产，其中在检修有52家77座(上周为50家73座)，80座停产高炉总容积为</text>
<text x="3" y="3883" font-size="14" fill="#555" textLength="763" lengthAdjust="spacingAndGlyphs">77070立方米，较上周增加7610立方米，按容积计算主要钢铁企业高炉开工率为79.97%，较上周下降0.71%。</text>
<text x="3" y="3907" font-size="14" fill="#555" textLength="352" lengthAdjust="spacingAndGlyphs">影响日铁水量为22.44万吨，较上周增加1.97万吨。</text>
<path d="M0,3917.5H864 M0,3960.5H864" stroke="#000"/>
<rect x="2" y="3917" width="19" height="40" fill="#2f4f98"/>
<text x="35" y="3941" class="sh">唐山钢坯成本　（元/吨）</text>

<!-- chart J -->
<ellipse cx="276" cy="4094" rx="90" ry="52" class="wmE"/>
<text x="276" y="4112" class="wmL" font-size="46">L<tspan fill="#f0b8b8">G</tspan>MI</text>
<text x="417" y="4116" class="wmW" font-size="40">www.lgmi.com</text>
<text x="431" y="3986" font-size="14" font-weight="bold" fill="#555" text-anchor="middle">钢坯出厂价与钢坯生产成本均价走势对比图</text>
<path d="M281,4011H309" stroke="#c00000" stroke-width="2.5"/><text x="314" y="4015" font-size="11" font-weight="bold" fill="#555">迁安方坯</text>
<path d="M404,4011H432" stroke="#2f5597" stroke-width="2.5"/><text x="436" y="4015" font-size="11" font-weight="bold" fill="#555">钢坯成本均值（月度累计）</text>
<path d="M59,3974V4206H791" class="ax"/>
<g class="yl" font-size="12" font-weight="bold" fill="#333"><text x="50" y="3978">4100</text><text x="50" y="4004">4000</text><text x="50" y="4030">3900</text><text x="50" y="4055">3800</text><text x="50" y="4081">3700</text><text x="50" y="4107">3600</text><text x="50" y="4133">3500</text><text x="50" y="4159">3400</text><text x="50" y="4184">3300</text><text x="50" y="4210">3200</text></g>
<g font-size="11" font-weight="bold" fill="#444" text-anchor="end">
<text transform="translate(62,4216) rotate(-45)">4月5日</text><text transform="translate(105,4216) rotate(-45)">4月12日</text><text transform="translate(148,4216) rotate(-45)">4月19日</text><text transform="translate(191,4216) rotate(-45)">4月26日</text><text transform="translate(234,4216) rotate(-45)">5月3日</text><text transform="translate(276,4216) rotate(-45)">5月10日</text><text transform="translate(319,4216) rotate(-45)">5月17日</text><text transform="translate(362,4216) rotate(-45)">5月24日</text><text transform="translate(405,4216) rotate(-45)">5月31日</text><text transform="translate(448,4216) rotate(-45)">6月7日</text><text transform="translate(490,4216) rotate(-45)">6月14日</text><text transform="translate(533,4216) rotate(-45)">6月21日</text><text transform="translate(576,4216) rotate(-45)">6月28日</text><text transform="translate(618,4216) rotate(-45)">7月5日</text><text transform="translate(661,4216) rotate(-45)">7月12日</text><text transform="translate(704,4216) rotate(-45)">7月19日</text><text transform="translate(747,4216) rotate(-45)">7月26日</text><text transform="translate(790,4216) rotate(-45)">8月2日</text>
</g>
<g transform="translate(0,3560) scale(0.551,0.4904)">
<polyline class="nv" fill="none" stroke="#c00000" stroke-width="2.5" stroke-linejoin="round" points="107,1003 135,1003 165,1030 190,1030 200,1045 210,1035 240,1035 255,1025 275,1048 295,1090 320,1145 330,1130 345,1130 355,1145 360,1163 380,1170 420,1175 480,1178 490,1165 500,1188 510,1178 535,1183 560,1193 575,1188 590,1183 600,1200 630,1228 640,1225 645,1235 655,1267 735,1267 745,1250 760,1212 790,1160 800,1175 810,1190 825,1170 830,1140 860,1155 870,1155 880,1135 910,1103 930,1115 955,1120 960,1135 1000,1165 1025,1178 1035,1152 1048,1150 1060,1140 1100,1130 1135,1125 1150,1140 1180,1165 1200,1155 1215,1130 1235,1140 1255,1145 1265,1135 1280,1135 1295,1110 1330,1100 1345,1082 1355,1082 1365,1072 1375,1082 1420,1082 1435,1098"/>
<polyline class="nv" fill="none" stroke="#2f5597" stroke-width="2.5" stroke-linejoin="round" points="107,940 178,940 188,967 255,967 265,995 333,995 345,1022 370,1022 430,1098 490,1098 497,1138 570,1138 583,1148 600,1148 630,1192 720,1192 730,1210 800,1210 808,1222 880,1222 888,1227 955,1227 962,1195 1035,1195 1045,1205 1115,1205 1125,1203 1190,1203 1198,1190 1265,1190 1278,1180 1345,1180 1355,1160 1420,1160 1435,1132"/>
</g>
<text x="3" y="4310" font-size="14" fill="#555" textLength="823" lengthAdjust="spacingAndGlyphs">本周（8月2日）唐山地区样本长流程钢厂，钢坯含税累计成本（调研值，不含三费）均值为3552元，周环比增加50元</text>
</svg>
</body></html>
